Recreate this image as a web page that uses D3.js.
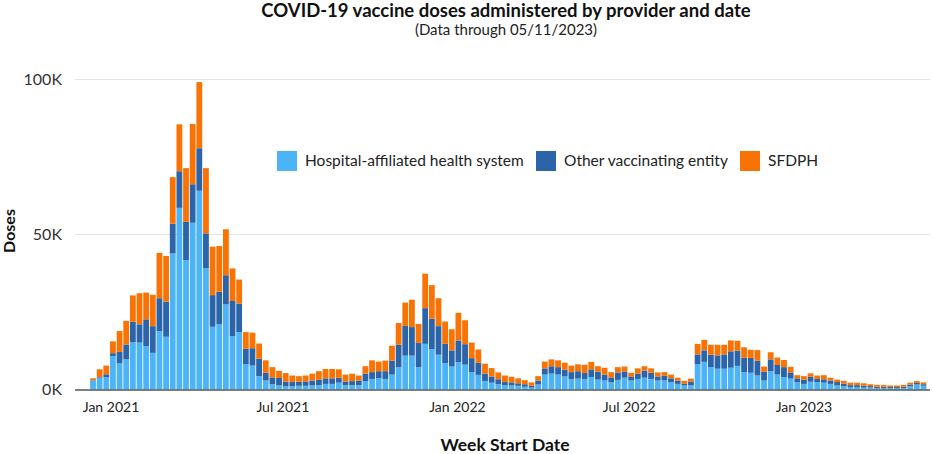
<!DOCTYPE html>
<html>
<head>
<meta charset="utf-8">
<script src="https://cdn.jsdelivr.net/npm/d3@7"></script>
<style>
  html, body { margin: 0; padding: 0; background: #fff; }
  svg { display: block; font-family: Lato, "Open Sans", sans-serif; }
</style>
</head>
<body>
<svg id="chart" width="933" height="454"></svg>
<script>
// ---- data (thousands of doses per week) ----
const firstWeek = new Date(2020, 11, 13);
const lastWeek = new Date(2023, 4, 7);
const seriesNames = ["Hospital-affiliated health system", "Other vaccinating entity", "SFDPH"];
const seriesColors = ["#4cb3f7", "#2b64a8", "#f97304"];

const hospital = [
  2.9, 3.8, 4.0, 10.8, 8.4, 9.7, 15.3, 15.1, 14.0, 11.8,
  18.8, 17.0, 43.8, 58.5, 41.7, 53.7, 64.0, 39.0, 20.2, 21.0,
  27.4, 17.2, 18.5, 8.1, 7.7, 4.3, 2.9, 1.7, 1.3, 1.0,
  1.0, 1.2, 1.2, 1.3, 1.4, 1.8, 1.8, 2.2, 1.4, 1.4,
  1.4, 2.7, 3.4, 3.6, 3.4, 4.8, 7.2, 10.9, 10.9, 7.2,
  14.7, 13.0, 11.2, 8.5, 7.4, 8.8, 8.0, 5.6, 4.7, 2.7,
  2.2, 1.7, 1.4, 1.3, 1.2, 0.9, 0.6, 1.6, 4.8, 5.1,
  4.8, 4.2, 3.4, 3.5, 3.4, 4.0, 3.2, 2.9, 2.3, 3.1,
  3.8, 2.9, 3.4, 3.8, 3.4, 2.9, 2.9, 2.4, 1.8, 1.3,
  1.3, 8.1, 8.9, 7.2, 6.7, 6.7, 7.0, 7.6, 5.6, 5.4,
  4.5, 2.9, 5.9, 4.8, 4.0, 3.5, 2.3, 1.8, 2.5, 2.4,
  2.2, 1.8, 1.3, 1.0, 0.8, 0.8, 0.6, 0.6, 0.5, 0.5,
  0.5, 0.5, 0.5, 1.1, 1.6, 1.2
];
const other = [
  0.1, 0.2, 0.9, 0.9, 3.7, 4.8, 6.5, 5.9, 8.6, 8.6,
  10.6, 11.3, 9.6, 11.8, 12.3, 12.4, 13.7, 11.3, 10.2, 10.5,
  9.4, 11.3, 9.2, 5.0, 5.6, 5.6, 2.5, 2.2, 2.4, 1.5,
  1.4, 1.3, 1.4, 1.6, 1.7, 1.8, 1.8, 1.6, 1.2, 1.3,
  1.5, 2.4, 2.2, 2.3, 2.5, 4.5, 7.2, 9.6, 9.2, 7.8,
  11.5, 9.8, 9.2, 6.2, 5.2, 7.0, 6.6, 4.5, 3.9, 2.4,
  2.0, 1.6, 1.0, 1.0, 0.8, 0.8, 0.6, 1.3, 2.0, 2.4,
  2.4, 2.2, 2.2, 2.4, 1.9, 2.5, 2.5, 1.9, 1.6, 2.4,
  2.0, 1.3, 1.7, 2.3, 2.0, 1.3, 1.5, 1.2, 1.1, 0.5,
  1.3, 3.2, 3.7, 4.0, 4.3, 4.6, 5.3, 4.9, 4.6, 4.8,
  4.8, 2.8, 3.8, 3.1, 3.2, 2.0, 1.3, 1.4, 1.6, 1.0,
  1.1, 1.1, 1.1, 0.9, 0.6, 0.6, 0.6, 0.5, 0.4, 0.4,
  0.3, 0.3, 0.4, 0.5, 0.5, 0.5
];
const sfdph = [
  0.6, 2.5, 2.8, 3.8, 6.7, 7.6, 8.5, 10.0, 8.6, 10.1,
  14.6, 14.7, 15.0, 15.1, 17.3, 19.4, 21.3, 21.0, 15.6, 14.7,
  14.8, 10.5, 7.7, 5.4, 5.0, 4.9, 4.0, 3.3, 2.3, 2.8,
  2.1, 1.8, 1.9, 2.2, 2.8, 3.0, 3.0, 2.7, 2.2, 2.4,
  1.6, 2.4, 3.8, 3.1, 3.4, 4.8, 7.0, 7.5, 8.8, 6.1,
  11.1, 10.8, 9.0, 7.2, 6.8, 8.9, 7.7, 5.0, 4.3, 3.2,
  2.7, 2.2, 2.1, 1.8, 1.6, 1.3, 1.1, 1.4, 2.2, 2.2,
  2.2, 2.2, 2.1, 2.2, 2.7, 2.4, 1.8, 2.2, 1.7, 1.7,
  1.6, 1.2, 1.7, 1.4, 1.4, 1.3, 1.2, 1.2, 0.9, 1.0,
  0.9, 3.4, 3.4, 3.2, 3.4, 3.1, 3.5, 3.2, 3.4, 2.6,
  3.4, 1.7, 2.3, 2.4, 2.3, 1.8, 1.0, 1.1, 1.1, 1.1,
  1.3, 0.9, 0.8, 0.9, 0.8, 0.8, 0.8, 0.6, 0.6, 0.6,
  0.5, 0.5, 0.6, 0.6, 0.6, 0.6
];
const yTicks = [0, 50000, 100000];
const yTickLabels = ["0K", "50K", "100K"];
const xTickDates = [new Date(2021,0,1), new Date(2021,6,1), new Date(2022,0,1), new Date(2022,6,1), new Date(2023,0,1)];
const xTickLabels = ["Jan 2021", "Jul 2021", "Jan 2022", "Jul 2022", "Jan 2023"];

// ---- build table ----
const weeks = d3.timeWeek.range(firstWeek, d3.timeDay.offset(lastWeek, 1));
const table = weeks.map((d, i) => ({
  date: d,
  hospital: hospital[i] * 1000,
  other: other[i] * 1000,
  sfdph: sfdph[i] * 1000
}));
const keys = ["hospital", "other", "sfdph"];
const stacked = d3.stack().keys(keys)(table);

// ---- layout ----
const svg = d3.select("#chart");
const plotLeft = 75, plotRight = 930, plotTop = 79, plotBottom = 389.5;
const x = d3.scaleTime().domain([firstWeek, lastWeek]).range([93, 923.5]);
const y = d3.scaleLinear().domain([0, 100000]).range([plotBottom, plotTop]);
const barW = 5.8;

// gridlines
svg.append("g").selectAll("line").data(yTicks.slice(1)).join("line")
  .attr("x1", plotLeft).attr("x2", plotRight)
  .attr("y1", d => Math.round(y(d)) + 0.5).attr("y2", d => Math.round(y(d)) + 0.5)
  .attr("stroke", "#e3e3e3").attr("stroke-width", 1);

// y tick labels
svg.append("g").selectAll("text").data(yTicks).join("text")
  .attr("x", 62).attr("y", d => y(d)).attr("dy", "0.35em")
  .attr("text-anchor", "end").attr("font-size", 16).attr("fill", "#333")
  .text((d, i) => yTickLabels[i]);

// bars
svg.append("g").selectAll("g").data(stacked).join("g")
  .attr("fill", (d, i) => seriesColors[i])
  .selectAll("rect").data(d => d).join("rect")
  .attr("x", d => x(d.data.date) - barW / 2)
  .attr("width", barW)
  .attr("y", d => y(d[1]))
  .attr("height", d => Math.max(0, y(d[0]) - y(d[1])));

// baseline axis
svg.append("line").attr("x1", plotLeft).attr("x2", plotRight)
  .attr("y1", plotBottom + 0.5).attr("y2", plotBottom + 0.5)
  .attr("stroke", "#555").attr("stroke-width", 1.5);

// x tick labels
svg.append("g").selectAll("text").data(xTickDates).join("text")
  .attr("x", d => x(d)).attr("y", 412)
  .attr("text-anchor", "middle").attr("font-size", 14).attr("fill", "#222")
  .text((d, i) => xTickLabels[i]);

// axis titles
svg.append("text").attr("x", 505).attr("y", 451)
  .attr("text-anchor", "middle").attr("font-size", 17.5).attr("font-weight", "bold").attr("fill", "#111")
  .text("Week Start Date");
svg.append("text").attr("transform", "translate(15,231) rotate(-90)")
  .attr("text-anchor", "middle").attr("font-size", 16).attr("font-weight", "bold").attr("fill", "#111")
  .text("Doses");

// title
svg.append("text").attr("x", 506).attr("y", 17)
  .attr("text-anchor", "middle").attr("font-size", 18.5).attr("font-weight", "bold").attr("fill", "#111")
  .text("COVID-19 vaccine doses administered by provider and date");
svg.append("text").attr("x", 506).attr("y", 35)
  .attr("text-anchor", "middle").attr("font-size", 15).attr("fill", "#222")
  .text("(Data through 05/11/2023)");

// legend
const legendX = [277, 536, 740];
const lg = svg.append("g").selectAll("g").data(seriesNames).join("g")
  .attr("transform", (d, i) => `translate(${legendX[i]},151)`);
lg.append("rect").attr("width", 20).attr("height", 20).attr("fill", (d, i) => seriesColors[i]);
lg.append("text").attr("x", 28).attr("y", 10).attr("dy", "0.35em")
  .attr("font-size", 15.5).attr("fill", "#222").text(d => d);
</script>
</body>
</html>
